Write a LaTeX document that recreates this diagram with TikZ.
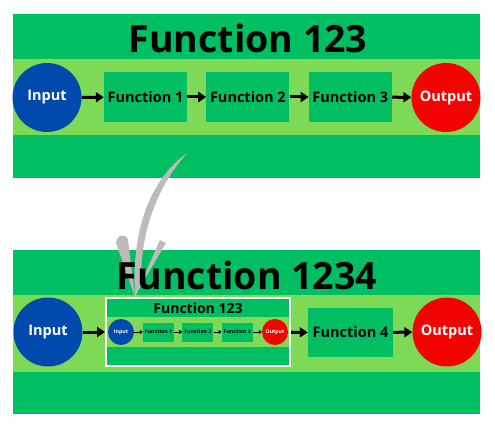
\documentclass[tikz,border=0pt]{standalone}
\usepackage{fontspec}
\setmainfont{Open Sans}
\usepackage{tikz}
\usetikzlibrary{positioning,arrows.meta}
\definecolor{panelgreen}{HTML}{00BF63}
\definecolor{stripegreen}{HTML}{7ED957}
\definecolor{inblue}{HTML}{004AAD}
\definecolor{outred}{HTML}{F40303}
\definecolor{swooshgray}{HTML}{C0B9B9}

\begin{document}
\begin{tikzpicture}[
  x=1pt, y=-1pt,
  band/.style={fill=#1, inner sep=0pt, outer sep=0pt, minimum width=467pt},
  fbox/.style={fill=panelgreen, inner sep=0pt, minimum width=83pt, minimum height=50pt, font=\fontsize{14.5}{16}\selectfont\bfseries},
  in circle/.style={circle, fill=inblue, text=white, inner sep=0pt, minimum size=69pt, font=\fontsize{14.5}{16}\selectfont\bfseries},
  out circle/.style={in circle, fill=outred},
  small fbox/.style={fill=panelgreen, inner sep=0pt, minimum width=31pt, minimum height=19pt, font=\fontsize{5.2}{6}\selectfont\bfseries},
  small circle/.style={circle, fill=#1, text=white, inner sep=0pt, minimum size=26pt, font=\fontsize{5.2}{6}\selectfont\bfseries},
  title/.style={font=\fontsize{37.5}{40}\selectfont\bfseries},
  arr/.style={-{Triangle[length=8pt,width=10pt]}, line width=3pt},
  sarr/.style={-{Triangle[length=3pt,width=4pt]}, line width=1pt}
]
\useasboundingbox (0,0) rectangle (495,433);

% ---------- top panel ----------
\node[band=panelgreen, minimum height=164pt] (toppanel) at (246.5,96) {};
\node[band=stripegreen, minimum height=76pt] (topstripe) at (246.5,97) {};
\node[title] (toptitle) at (248,38.5) {Function 123};
\node[in circle] (tin) at (47,97.5) {Input};
\node[fbox] (tf1) at (145.5,97) {Function 1};
\node[fbox, right=19pt of tf1] (tf2) {Function 2};
\node[fbox, right=19pt of tf2] (tf3) {Function 3};
\node[out circle] (tout) at (446,97.5) {Output};
\draw[arr] (tin) -- (tf1);
\draw[arr] (tf1) -- (tf2);
\draw[arr] (tf2) -- (tf3);
\draw[arr] (tf3) -- (tout);

% ---------- bottom panel ----------
\node[band=panelgreen, minimum height=164pt] (botpanel) at (246.5,332) {};
\node[band=stripegreen, minimum height=77pt] (botstripe) at (246.5,333.5) {};

% ---------- nested copy of the top panel ----------
\node[fill=panelgreen, draw=white, line width=2pt, minimum width=184pt, minimum height=68pt, inner sep=0pt] (nest) at (198,332) {};
\node[fill=stripegreen, minimum width=182pt, minimum height=30pt, inner sep=0pt] (neststripe) at (198,332) {};
\node[font=\fontsize{14}{16}\selectfont\bfseries] (nesttitle) at (198,308.5) {Function 123};
\node[small circle=inblue] (nin) at (121,332) {Input};
\node[small fbox] (nf1) at (158.5,332) {Function 1};
\node[small fbox, right=8pt of nf1] (nf2) {Function 2};
\node[small fbox, right=8pt of nf2] (nf3) {Function 3};
\node[small circle=outred] (nout) at (275,332) {Output};
\draw[sarr] (nin) -- (nf1);
\draw[sarr] (nf1) -- (nf2);
\draw[sarr] (nf2) -- (nf3);
\draw[sarr] (nf3) -- (nout);

% ---------- swoosh from top panel down to the nested copy ----------
\coordinate (swtail) at (187,153);
\coordinate (swtip) at (135,297);
\fill[swooshgray] (swtail) .. controls (150,180) and (131,230) .. (swtip)
  -- (141,285) .. controls (140,230) and (158,186) .. (swtail) -- cycle;
\fill[swooshgray] (116,243) .. controls (117,234) and (126,233) .. (128,240) -- (swtip) -- cycle;
\fill[swooshgray] (160,240) -- (166,243) -- (137,292) -- cycle;

\node[title] (bottitle) at (247,275) {Function 1234};
\node[in circle] (bin) at (48,332) {Input};
\node[fbox, minimum width=85pt, minimum height=49pt] (bf4) at (350.5,332.5) {Function 4};
\node[out circle] (bout) at (447,332) {Output};
\draw[arr] (bin) -- (nest);
\draw[arr] (nest) -- (bf4);
\draw[arr] (bf4) -- (bout);
\end{tikzpicture}
\end{document}
